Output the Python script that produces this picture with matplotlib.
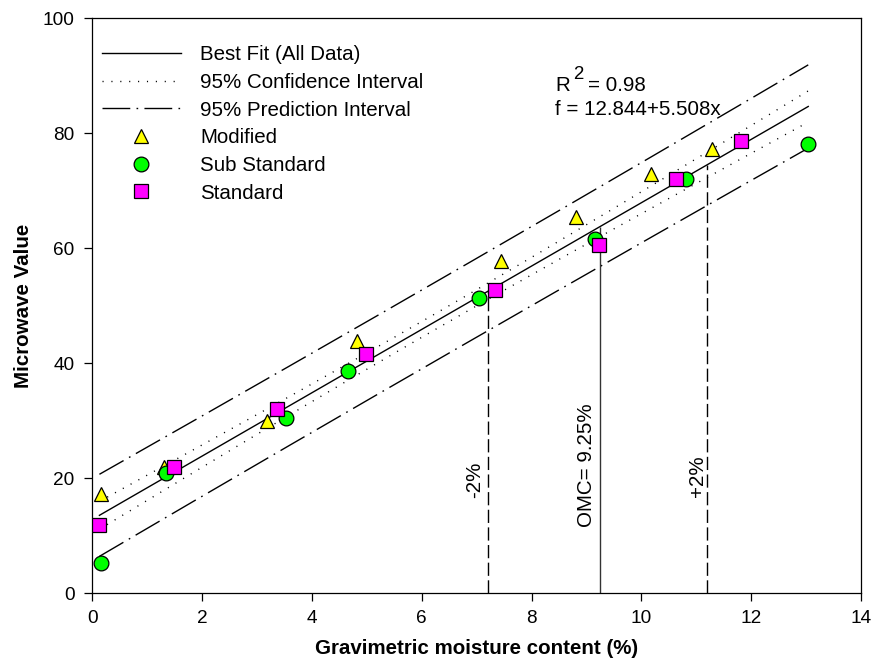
"""Microwave value vs gravimetric moisture content, with regression bands and OMC markers."""
import numpy as np
import matplotlib.pyplot as plt

plt.rcParams.update({
    "font.family": ["Liberation Sans", "DejaVu Sans"],
    "font.size": 14.8,
    "lines.scale_dashes": False,
})

# Samples by compaction type: moisture content (%) and microwave reading
mod_x = [0.15, 1.30, 3.18, 4.82, 7.44, 8.81, 10.17, 11.29]
mod_y = [17.3, 22.0, 30.0, 43.9, 57.8, 65.4, 73.0, 77.2]
sub_x = [0.15, 1.35, 3.52, 4.65, 7.04, 9.16, 10.82, 13.04]
sub_y = [5.2, 20.9, 30.5, 38.6, 51.3, 61.7, 72.1, 78.1]
std_x = [0.13, 1.49, 3.36, 4.98, 7.34, 9.23, 10.63, 11.81]
std_y = [11.8, 22.0, 32.0, 41.6, 52.7, 60.5, 72.1, 78.7]

# Reported regression
intercept, slope = 12.844, 5.508
r_squared = 0.98

# Optimum moisture content and the +/-2 % window
omc = 9.25
window = [7.2, 11.2]
window_labels = ["-2%", "+2%"]

T_975 = 2.074  # Student t, two-sided 95 %, df = 22

x_all = np.array(mod_x + sub_x + std_x)
y_all = np.array(mod_y + sub_y + std_y)
n = len(x_all)
resid = y_all - (intercept + slope * x_all)
s = np.sqrt(np.sum(resid ** 2) / (n - 2))
xbar = x_all.mean()
sxx = np.sum((x_all - xbar) ** 2)

xs = np.linspace(x_all.min(), x_all.max(), 200)
fit = intercept + slope * xs
ci = T_975 * s * np.sqrt(1 / n + (xs - xbar) ** 2 / sxx)
pi = T_975 * s * np.sqrt(1 + 1 / n + (xs - xbar) ** 2 / sxx)

fig = plt.figure(figsize=(8.78, 6.71), dpi=100)
ax = fig.add_axes([0.1051, 0.1158, 0.8755, 0.8569])

dot = (0, (0.8, 5.6))
dashdot = (0, (20, 4.5, 1.2, 4.5))
lw = 1.0

ax.plot(xs, fit, "-", color="black", lw=lw, label="Best Fit (All Data)")
ax.plot(xs, fit + ci, color="black", lw=lw, ls=dot, label="95% Confidence Interval")
ax.plot(xs, fit - ci, color="black", lw=lw, ls=dot)
ax.plot(xs, fit + pi, color="black", lw=lw, ls=dashdot, label="95% Prediction Interval")
ax.plot(xs, fit - pi, color="black", lw=lw, ls=dashdot)

# OMC line and the +/-2 % limits, drawn up to the fitted line
ax.vlines(omc, 0, intercept + slope * omc, color="#333333", lw=lw)
for xv in window:
    ax.vlines(xv, 0, intercept + slope * xv, color="black", lw=lw,
              linestyles=[(0, (9.5, 3.2))])

mk = dict(ls="none", ms=10.6, mec="black", mew=0.9)
ax.plot(mod_x, mod_y, marker="^", mfc="#ffff00", label="Modified", zorder=4, **mk)
ax.plot(sub_x, sub_y, marker="o", mfc="#00ff00", label="Sub Standard", zorder=5, **mk)
ax.plot(std_x, std_y, marker="s", mfc="#ff00ff", label="Standard", zorder=6, **mk)

ax.text(6.97, 19.7, window_labels[0], rotation=90, ha="center", va="center")
ax.text(9.01, 22.3, f"OMC= {omc}%", rotation=90, ha="center", va="center")
ax.text(11.02, 20.3, window_labels[1], rotation=90, ha="center", va="center")

# R^2 with a near full-size superscript, then the fit equation
ax.text(8.43, 87.4, "R", ha="left", va="baseline")
ax.annotate("2", (8.43, 87.4), xytext=(13.3, 8.6), textcoords="offset points",
            fontsize=13.4, ha="left", va="baseline")
ax.annotate(f"= {r_squared}", (8.43, 87.4), xytext=(23.8, 0), textcoords="offset points",
            ha="left", va="baseline")
ax.text(8.43, 83.2, f"f = {intercept}+{slope}x", ha="left", va="baseline")

ax.set_xlim(0, 14)
ax.set_ylim(0, 100)
ax.set_xticks(range(0, 15, 2))
ax.set_yticks(range(0, 101, 20))
ax.tick_params(direction="out", length=5.8, width=0.9, labelsize=13.7)
ax.tick_params(axis="x", pad=6)
ax.tick_params(axis="y", pad=7)
for sp in ax.spines.values():
    sp.set_linewidth(0.9)

ax.set_xlabel("Gravimetric moisture content (%)", fontweight="bold", labelpad=9)
ax.set_ylabel("Microwave Value", fontweight="bold", labelpad=7)

ax.legend(loc="upper left", bbox_to_anchor=(0.012, 0.953), frameon=False,
          borderpad=0, borderaxespad=0, handlelength=3.85, handletextpad=0.95,
          labelspacing=0.42, fontsize=14.8)

fig.savefig("out.png", dpi=100)
